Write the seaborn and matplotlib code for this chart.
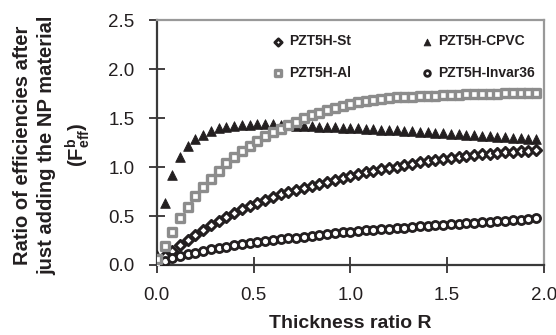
import numpy as np
import pandas as pd
import seaborn as sns
import matplotlib.pyplot as plt

# thickness ratio R (one point every 0.04)
R = [0.00, 0.04, 0.08, 0.12, 0.16, 0.20, 0.24, 0.28, 0.32, 0.36,
     0.40, 0.44, 0.48, 0.52, 0.56, 0.60, 0.64, 0.68, 0.72, 0.76,
     0.80, 0.84, 0.88, 0.92, 0.96, 1.00, 1.04, 1.08, 1.12, 1.16,
     1.20, 1.24, 1.28, 1.32, 1.36, 1.40, 1.44, 1.48, 1.52, 1.56,
     1.60, 1.64, 1.68, 1.72, 1.76, 1.80, 1.84, 1.88, 1.92, 1.96]

st = [0.03, 0.09, 0.143, 0.20, 0.26, 0.31, 0.36, 0.405, 0.45, 0.49,
      0.53, 0.57, 0.60, 0.63, 0.66, 0.69, 0.72, 0.745, 0.765, 0.79,
      0.81, 0.83, 0.85, 0.87, 0.89, 0.91, 0.93, 0.945, 0.96, 0.975,
      0.99, 1.005, 1.02, 1.035, 1.05, 1.065, 1.075, 1.085, 1.095, 1.105,
      1.115, 1.12, 1.13, 1.135, 1.14, 1.15, 1.155, 1.16, 1.165, 1.17]

cpvc = [0.10, 0.63, 0.92, 1.10, 1.21, 1.29, 1.33, 1.37, 1.395, 1.41,
        1.42, 1.43, 1.43, 1.435, 1.435, 1.435, 1.43, 1.425, 1.42, 1.417,
        1.414, 1.41, 1.407, 1.404, 1.40, 1.397, 1.394, 1.39, 1.386, 1.382,
        1.378, 1.373, 1.369, 1.365, 1.36, 1.355, 1.35, 1.345, 1.34, 1.335,
        1.33, 1.325, 1.32, 1.315, 1.31, 1.305, 1.30, 1.295, 1.29, 1.285]

al = [0.06, 0.19, 0.34, 0.48, 0.59, 0.70, 0.80, 0.88, 0.96, 1.04,
      1.10, 1.16, 1.21, 1.27, 1.32, 1.36, 1.39, 1.43, 1.46, 1.50,
      1.53, 1.55, 1.58, 1.60, 1.62, 1.64, 1.66, 1.67, 1.68, 1.69,
      1.70, 1.71, 1.72, 1.72, 1.725, 1.73, 1.73, 1.735, 1.74, 1.74,
      1.745, 1.745, 1.75, 1.75, 1.75, 1.755, 1.755, 1.76, 1.76, 1.76]

invar = [0.01, 0.044, 0.068, 0.092, 0.109, 0.126, 0.143, 0.16, 0.173, 0.187,
         0.20, 0.21, 0.22, 0.235, 0.245, 0.255, 0.265, 0.275, 0.28, 0.29,
         0.30, 0.31, 0.32, 0.325, 0.335, 0.34, 0.347, 0.353, 0.358, 0.364,
         0.37, 0.376, 0.382, 0.388, 0.393, 0.399, 0.405, 0.41, 0.416, 0.421,
         0.426, 0.431, 0.437, 0.442, 0.447, 0.452, 0.458, 0.464, 0.47, 0.476]

x_ticks = [0.0, 0.5, 1.0, 1.5, 2.0]
y_ticks = [0.0, 0.5, 1.0, 1.5, 2.0, 2.5]

sns.set_style('ticks')
plt.rcParams['font.family'] = ['Liberation Sans', 'DejaVu Sans']
plt.rcParams['mathtext.fontset'] = 'custom'
plt.rcParams['mathtext.rm'] = 'Liberation Sans'
plt.rcParams['mathtext.bf'] = 'Liberation Sans:bold'

ink = '#231f20'
grey = '#8c8c8c'

df = pd.DataFrame({'R': R, 'St': st, 'CPVC': cpvc, 'Al': al, 'Invar': invar})

fig, ax = plt.subplots(figsize=(5.56, 3.35), dpi=100)
fig.subplots_adjust(left=0.282, right=0.978, top=0.940, bottom=0.209)

# one call per series, styles follow the original markers
sns.scatterplot(ax=ax, data=df, x='R', y='St', marker='D', s=26, color='white',
                edgecolor=ink, linewidth=2.2, label='PZT5H-St', zorder=3)
sns.scatterplot(ax=ax, data=df, x='R', y='CPVC', marker='^', s=48, color=ink,
                edgecolor=ink, linewidth=0.6, label='PZT5H-CPVC', zorder=3)
sns.scatterplot(ax=ax, data=df, x='R', y='Al', marker='s', s=34, color='white',
                edgecolor=grey, linewidth=2.4, label='PZT5H-Al', zorder=4)
sns.scatterplot(ax=ax, data=df, x='R', y='Invar', marker='o', s=34, color='white',
                edgecolor=ink, linewidth=2.0, label='PZT5H-Invar36', zorder=3)

ax.set_xlim(0, 2.0)
ax.set_ylim(0, 2.5)
ax.set_xticks(x_ticks)
ax.set_yticks(y_ticks)
ax.set_xticklabels([f'{v:.1f}' for v in x_ticks])
ax.set_yticklabels([f'{v:.1f}' for v in y_ticks])
ax.tick_params(direction='inout', length=12, width=1.2, colors=ink,
               labelsize=13.5, pad=10)

for side in ['left', 'bottom']:
    ax.spines[side].set_color('#3a3a3a')
    ax.spines[side].set_linewidth(1.6)
for side in ['top', 'right']:
    ax.spines[side].set_visible(True)
    ax.spines[side].set_color('#999999')
    ax.spines[side].set_linewidth(1.6)

ax.set_xlabel('Thickness ratio R', fontsize=14, fontweight='bold', color=ink, labelpad=8)
ax.set_ylabel('Ratio of efficiencies after\njust adding the NP material\n'
              '(F$^{\\mathbf{b}}_{\\mathbf{eff}}$)',
              fontsize=14.5, fontweight='bold', color=ink, linespacing=1.35)
ax.yaxis.set_label_coords(-0.168, 0.49)

h, l = ax.get_legend_handles_labels()
order = [0, 2, 1, 3]
ax.legend([h[i] for i in order], [l[i] for i in order], ncol=2, frameon=False,
          loc='upper left', bbox_to_anchor=(0.282, 0.97), borderpad=0,
          handlelength=0.8, handletextpad=0.4, columnspacing=5.0,
          labelspacing=1.25, markerscale=0.7,
          prop={'size': 10, 'weight': 'bold'}, labelcolor=ink)

plt.savefig('out.png', dpi=100)
